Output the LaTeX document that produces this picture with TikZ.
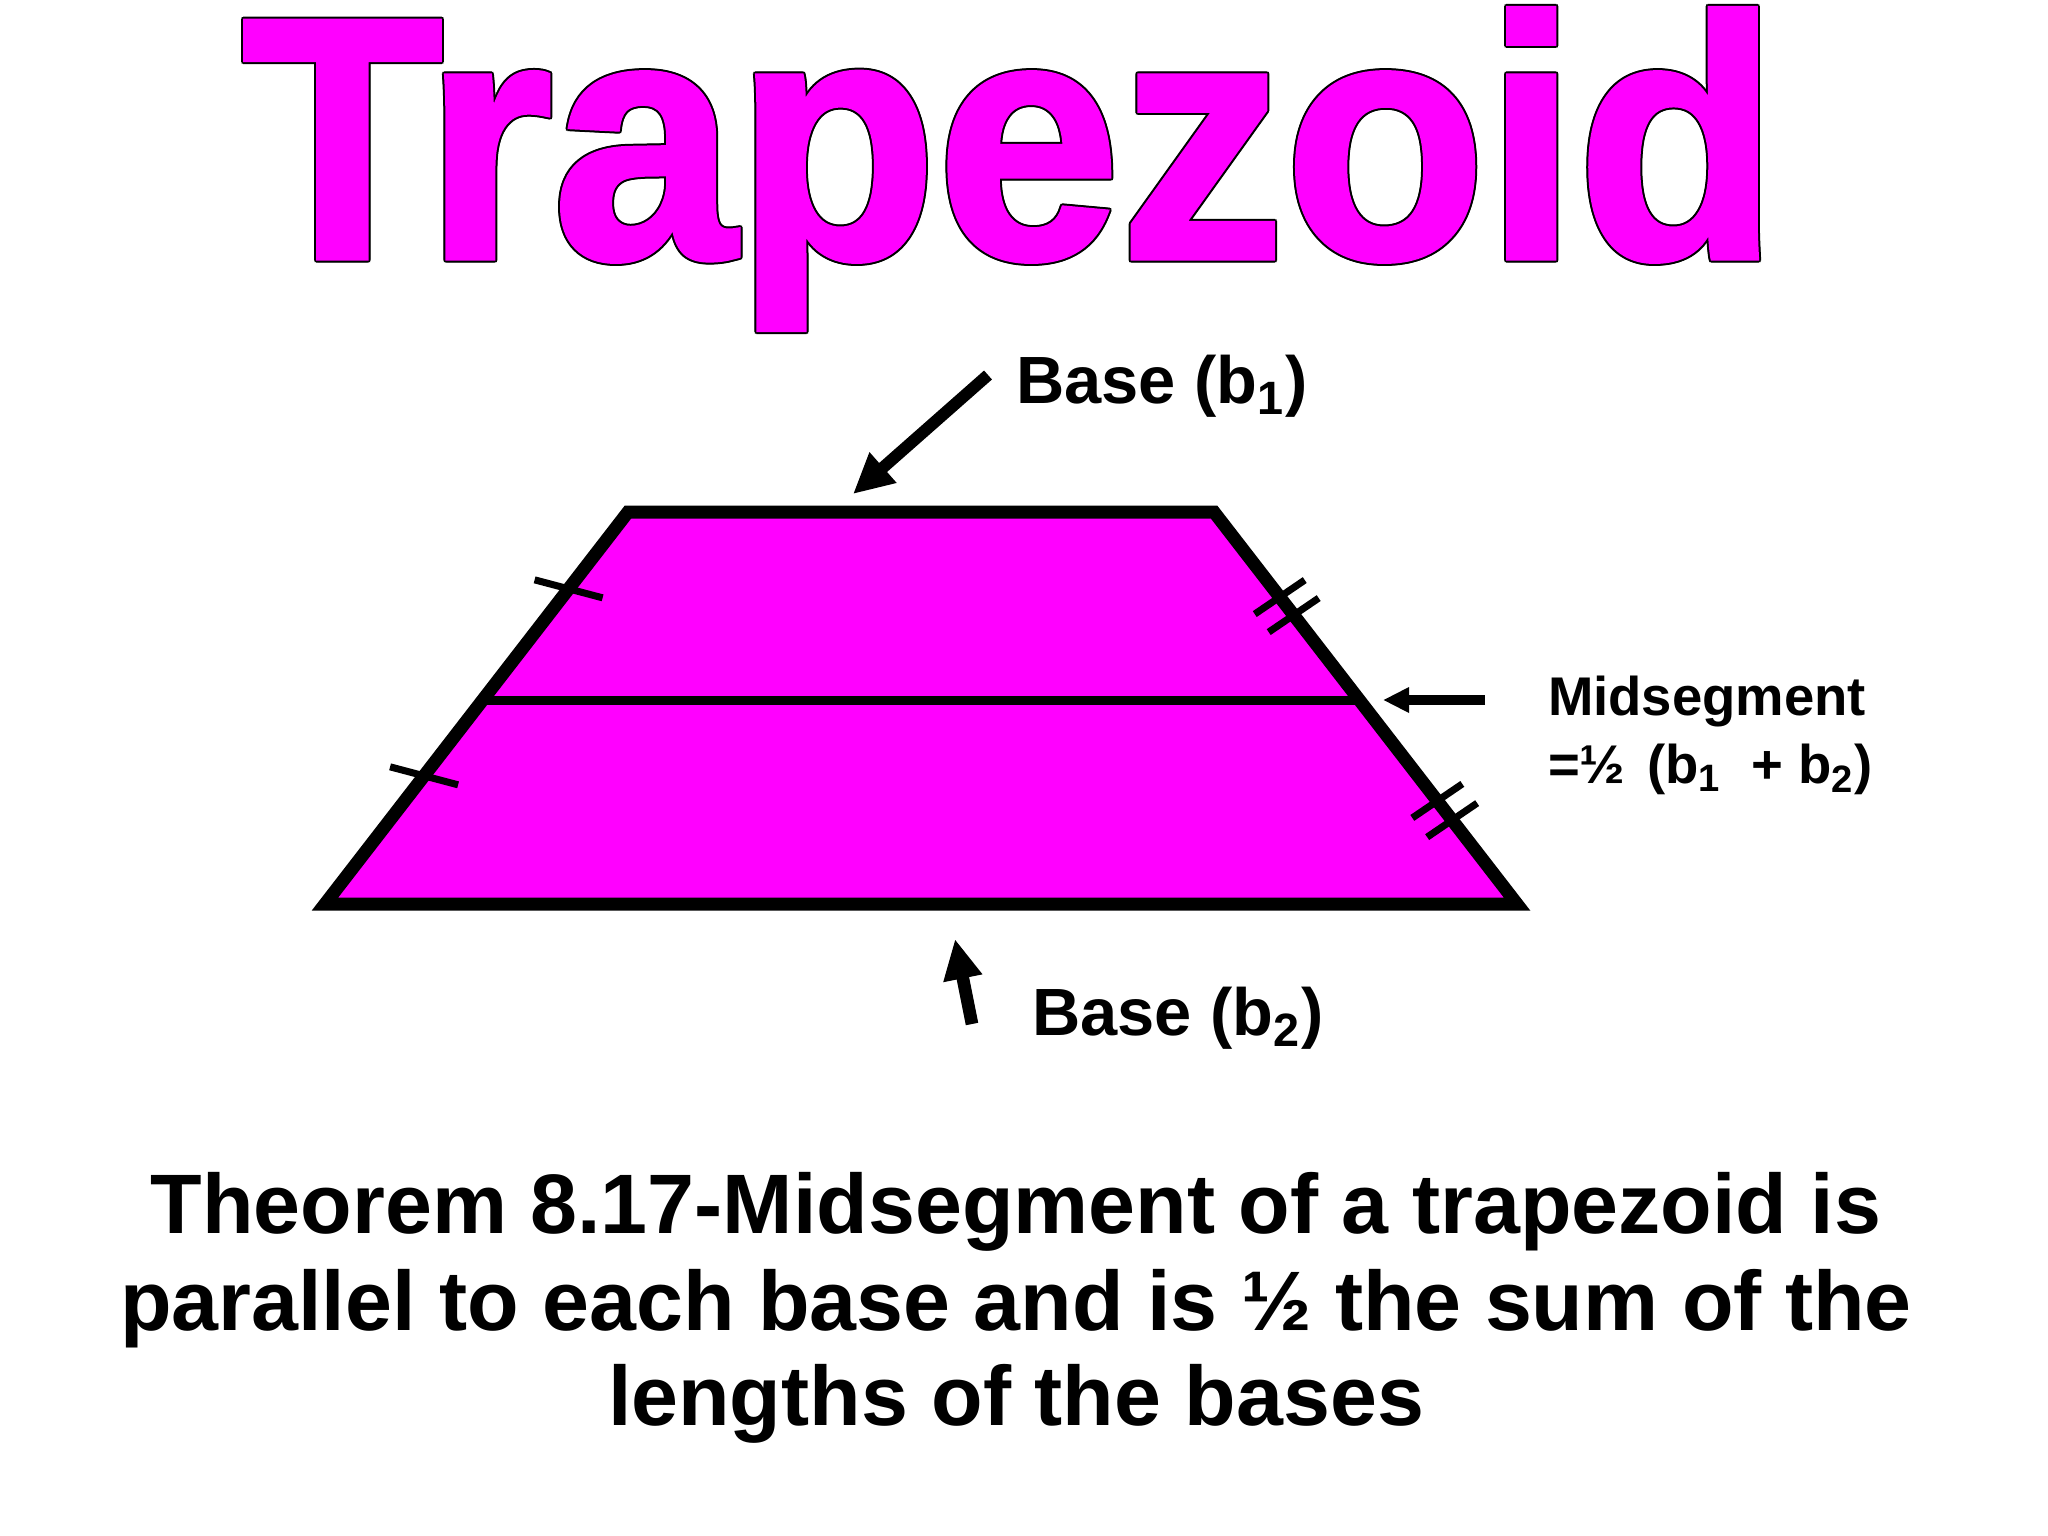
\documentclass[tikz,border=0pt]{standalone}
\usepackage{fontspec}
\setmainfont{Liberation Sans}
\newfontface\titleface[FakeBold=1.5]{Liberation Sans Bold}
\usetikzlibrary{calc,arrows.meta}
\definecolor{magenta}{HTML}{FF00FF}

\begin{document}
\begin{tikzpicture}[x=0.01cm,y=-0.01cm,
    every node/.style={inner sep=0pt,outer sep=0pt},
    titlefont/.style={anchor=base,xscale=0.975,yscale=1.02,font=\fontsize{96}{96}\titleface},
    hashmark/.style={line width=2pt}]
  \useasboundingbox (0,0) rectangle (2048,1536);

  % title with a thin black outline
  \foreach \dx/\dy [count=\i] in {-2/0,2/0,0/-2,0/2,-1.5/-1.5,1.5/-1.5,-1.5/1.5,1.5/1.5}
    \node (outline\i) [titlefont] at (1010+\dx,258+\dy) {Trapezoid};
  \node (title) [titlefont,text=magenta] at (1010,258) {Trapezoid};

  % trapezoid
  \coordinate (tl) at (628,512);
  \coordinate (tr) at (1214,512);
  \coordinate (br) at (1517,904);
  \coordinate (bl) at (325,904);
  \fill[magenta] (tl) -- (tr) -- (br) -- (bl) -- cycle;
  \draw[line width=2.6pt] ($(tl)!0.48!(bl)$) -- ($(tr)!0.48!(br)$);
  \draw[line width=3.7pt] (tl) -- (tr) -- (br) -- (bl) -- cycle;

  % congruence marks
  \foreach \t in {0.196,0.673}
    \draw[hashmark] ($(tl)!\t!(bl)$) +(-34,-9) -- +(34,9);
  \foreach \t in {0.217,0.263,0.737,0.786}
    \draw[hashmark] ($(tr)!\t!(br)$) +(-25,17) -- +(25,-17);

  % labels
  \node (b1label) [anchor=base west,font=\fontsize{19}{19}\selectfont\bfseries] at (1016,403) {Base (b\textsubscript{1})};
  \node (b2label) [anchor=base west,font=\fontsize{19}{19}\selectfont\bfseries] at (1032,1035) {Base (b\textsubscript{2})};
  \node (midlabel) [anchor=base west,font=\fontsize{15.5}{15.5}\selectfont\bfseries] at (1548,715) {Midsegment};
  \node (midformula) [anchor=base west,font=\fontsize{15.5}{15.5}\selectfont\bfseries] at (1548,783) {=½\hspace{2pt} (b\textsubscript{1}\hspace{4pt} + b\textsubscript{2})};

  % arrows
  \coordinate (b1tail) at (988,375);
  \coordinate (b1tip) at (853,494);
  \coordinate (midtail) at (1485,700);
  \coordinate (midtip) at (1383,700);
  \coordinate (b2tail) at (972,1024);
  \coordinate (b2tip) at (955,939);
  \draw[line width=3.4pt,-{Triangle[length=11.4pt,width=10.8pt]}] (b1tail) -- (b1tip);
  \draw[line width=2.6pt,-{Triangle[length=7.4pt,width=6.8pt]}] (midtail) -- (midtip);
  \draw[line width=3.6pt,-{Triangle[length=11.4pt,width=10.5pt]}] (b2tail) -- (b2tip);

  % theorem
  \node (thm1) [anchor=base,font=\fontsize{24}{24}\selectfont\bfseries] at (1016,1233) {Theorem 8.17-Midsegment of a trapezoid is};
  \node (thm2) [anchor=base,font=\fontsize{24}{24}\selectfont\bfseries] at (1016,1330) {parallel to each base and is ½ the sum of the};
  \node (thm3) [anchor=base,font=\fontsize{24}{24}\selectfont\bfseries] at (1016,1425) {lengths of the bases};
\end{tikzpicture}
\end{document}
